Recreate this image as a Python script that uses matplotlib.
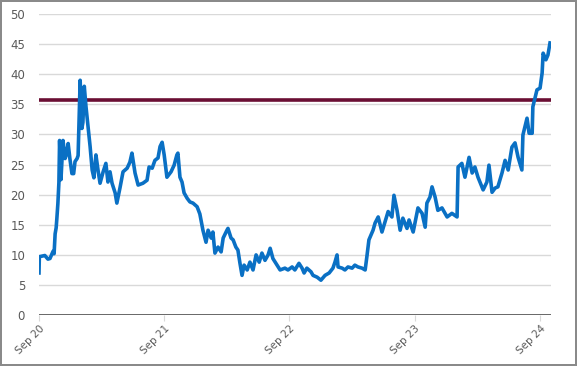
import matplotlib.pyplot as plt
import matplotlib.dates as mdates
import pandas as pd

# days since 2020-09-01 and the series value on that day
start = pd.Timestamp('2020-09-01')
days = [0, 1, 9, 17, 26, 32, 41, 44, 47, 50,
        52, 55, 58, 60, 64, 70, 76, 79, 85, 90,
        96, 101, 105, 111, 114, 120, 125, 128, 132, 137,
        143, 149, 155, 160, 166, 172, 178, 187, 195, 201,
        207, 213, 222, 227, 236, 245, 257, 265, 271, 280,
        289, 303, 315, 321, 330, 338, 347, 353, 359, 365,
        373, 385, 394, 402, 405, 411, 417, 423, 432, 440,
        449, 461, 469, 478, 487, 493, 502, 507, 513, 522,
        531, 537, 548, 551, 560, 566, 574, 580, 586, 592,
        598, 607, 615, 624, 633, 642, 650, 659, 668, 674,
        682, 694, 703, 717, 726, 738, 746, 758, 767, 773,
        781, 793, 799, 811, 822, 834, 846, 857, 863, 869,
        872, 884, 892, 901, 913, 921, 930, 942, 951, 956,
        962, 974, 980, 989, 1000, 1009, 1018, 1029, 1035, 1044,
        1053, 1061, 1073, 1079, 1091, 1105, 1117, 1126, 1131, 1140,
        1146, 1155, 1163, 1175, 1190, 1204, 1219, 1222, 1233, 1242,
        1254, 1263, 1271, 1280, 1295, 1306, 1312, 1321, 1330, 1338,
        1350, 1359, 1368, 1379, 1388, 1397, 1408, 1411, 1423, 1429,
        1438, 1440, 1452, 1461, 1467, 1470, 1478, 1484, 1490]
values = [7.0, 9.7, 9.8, 9.9, 9.3, 9.4, 10.6, 10.2, 13.5, 14.5,
          16.0, 18.5, 22.0, 29.0, 22.5, 29.0, 26.0, 26.5, 28.5, 26.0,
          23.5, 23.5, 25.5, 26.0, 26.5, 39.0, 31.0, 32.0, 38.0, 34.6,
          31.3, 28.0, 24.1, 22.8, 26.6, 24.1, 21.9, 23.8, 25.2, 22.1,
          23.8, 21.9, 20.3, 18.6, 21.1, 23.8, 24.4, 25.4, 26.9, 23.6,
          21.6, 21.9, 22.4, 24.6, 24.4, 25.7, 26.1, 28.0, 28.7, 26.6,
          22.9, 23.8, 24.9, 26.6, 26.9, 22.9, 22.1, 20.3, 19.4, 18.8,
          18.6, 18.0, 16.8, 14.1, 12.1, 14.1, 12.8, 13.8, 10.3, 11.3,
          10.5, 12.8, 14.1, 14.4, 12.8, 12.5, 11.3, 10.8, 8.6, 6.6,
          8.3, 7.5, 8.8, 7.5, 10.0, 8.8, 10.3, 9.1, 10.0, 11.1,
          9.4, 8.3, 7.5, 7.8, 7.5, 8.0, 7.5, 8.6, 7.8, 7.0,
          7.8, 7.2, 6.6, 6.3, 5.8, 6.6, 7.0, 7.8, 8.8, 10.0,
          8.0, 7.8, 7.5, 8.0, 7.8, 8.3, 8.0, 7.8, 7.5, 9.7,
          12.5, 14.1, 15.3, 16.3, 13.8, 15.5, 17.2, 16.3, 19.9, 17.4,
          14.1, 16.1, 14.4, 15.8, 13.8, 17.8, 16.9, 14.6, 18.6, 19.6,
          21.3, 19.6, 17.4, 17.8, 16.3, 16.9, 16.3, 24.6, 25.2, 22.9,
          26.2, 23.6, 24.6, 22.9, 20.8, 22.1, 24.9, 20.4, 21.1, 21.3,
          23.6, 25.7, 24.1, 27.9, 28.6, 26.2, 24.1, 29.9, 32.7, 30.2,
          30.2, 34.6, 37.4, 37.7, 40.2, 43.5, 42.4, 43.2, 45.2]
threshold = 35.8
tick_years = [2020, 2021, 2022, 2023, 2024]

dates = start + pd.to_timedelta(days, unit='D')

fig = plt.figure(figsize=(5.77, 3.66), dpi=100, facecolor='w', edgecolor='#8a8a8a', linewidth=1.5)
ax = fig.add_axes([0.0676, 0.139, 0.8874, 0.8227])

for y in range(5, 55, 5):
    ax.axhline(y, color='#d9d9d9', lw=1, zorder=1)
ax.axhline(0, color='#595959', lw=2, zorder=3)
ax.axhline(threshold, color='#6a0e33', lw=2.6, zorder=4)
ax.plot(dates, values, color='#0a70c4', lw=2.6, solid_joinstyle='round', zorder=5)

ax.set_ylim(0, 50)
ax.set_yticks(range(0, 55, 5))
ax.set_xlim(start, start + pd.Timedelta(days=1493))
ax.set_xticks([pd.Timestamp(f'{y}-09-01') for y in tick_years])
ax.xaxis.set_major_formatter(mdates.DateFormatter('%b %y'))
for lab in ax.get_xticklabels():
    lab.set_rotation(45)
    lab.set_ha('right')
    lab.set_rotation_mode('anchor')

ax.tick_params(axis='y', length=0, labelsize=8.5, labelcolor='#595959', pad=10)
ax.tick_params(axis='x', length=4, color='#d9d9d9', labelsize=7.5, labelcolor='#595959', pad=2)
for spine in ('top', 'right', 'bottom', 'left'):
    ax.spines[spine].set_visible(False)

fig.savefig('out.png', dpi=100)
